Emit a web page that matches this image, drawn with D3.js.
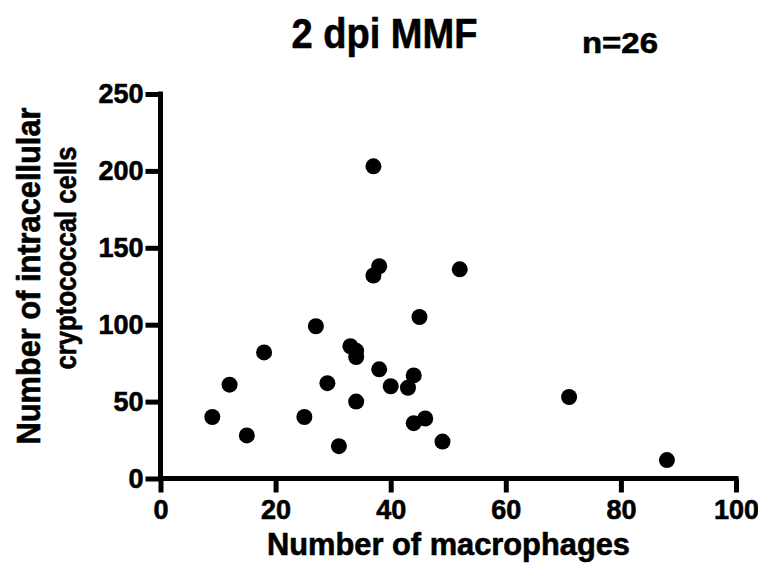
<!DOCTYPE html>
<html>
<head>
<meta charset="utf-8">
<script src="https://cdn.jsdelivr.net/npm/d3@7"></script>
<style>
  html, body { margin: 0; padding: 0; background: #fff; }
  svg { display: block; font-family: "Liberation Sans", Arial, Helvetica, sans-serif; }
  svg text { stroke: #000; stroke-width: 0.6px; }
</style>
</head>
<body>
<svg id="chart" width="758" height="570"></svg>
<script>
// Data
const macrophages = [9, 12, 15, 18, 25, 27, 29, 31, 33, 34, 34, 34, 38, 40, 43, 44, 44, 46, 49, 45, 71, 88, 37, 38, 37, 52];
const intracellular = [40, 61, 28, 82, 40, 99, 62, 21, 86, 83, 79, 50, 71, 60, 59, 67, 36, 39, 24, 105, 53, 12, 203, 138, 132, 136];
const xTicks = [0, 20, 40, 60, 80, 100];
const yTicks = [0, 50, 100, 150, 200, 250];
const titleText = "2 dpi MMF";
const nText = "n=26";
const xLabel = "Number of macrophages";
const yLabelLines = ["Number of intracellular", "cryptococcal cells"];

const points = macrophages.map((m, i) => ({ x: m, y: intracellular[i] }));

const svg = d3.select("#chart");
const x = d3.scaleLinear().domain([0, 100]).range([160.5, 736]);
const y = d3.scaleLinear().domain([0, 250]).range([478.5, 94]);

const AXW = 5;

// X axis
const gx = svg.append("g").attr("transform", `translate(0,${y(0)})`)
  .call(d3.axisBottom(x).tickValues(xTicks).tickSize(14).tickSizeOuter(0).tickPadding(7));
gx.select(".domain").attr("stroke", "#000").attr("stroke-width", AXW)
  .attr("d", `M${x(0) - AXW/2},0H${x(100) + AXW/2}`);
gx.selectAll(".tick line").attr("stroke", "#000").attr("stroke-width", AXW);
gx.selectAll(".tick text").attr("fill", "#000").attr("font-size", 27).attr("font-weight", "bold");

// Y axis
const gy = svg.append("g").attr("transform", `translate(${x(0)},0)`)
  .call(d3.axisLeft(y).tickValues(yTicks).tickSize(15).tickSizeOuter(0).tickPadding(2));
gy.select(".domain").attr("stroke", "#000").attr("stroke-width", AXW)
  .attr("d", `M0,${y(250) - AXW/2}V${y(0) + AXW/2}`);
gy.selectAll(".tick line").attr("stroke", "#000").attr("stroke-width", AXW);
gy.selectAll(".tick text").attr("fill", "#000").attr("font-size", 27).attr("font-weight", "bold");

// Points
svg.append("g").selectAll("circle").data(points).join("circle")
  .attr("cx", d => x(d.x)).attr("cy", d => y(d.y)).attr("r", 8).attr("fill", "#000");

// Title
svg.append("text").attr("x", 291.5).attr("y", 48)
  .attr("font-size", 43).attr("font-weight", "bold")
  .attr("textLength", 186).attr("lengthAdjust", "spacingAndGlyphs")
  .text(titleText);
svg.append("text").attr("x", 582).attr("y", 53)
  .attr("font-size", 30).attr("font-weight", "bold")
  .attr("textLength", 76).attr("lengthAdjust", "spacingAndGlyphs")
  .text(nText);

// X label
svg.append("text").attr("x", 448.5).attr("y", 555)
  .attr("text-anchor", "middle").attr("font-size", 31).attr("font-weight", "bold")
  .attr("textLength", 363).attr("lengthAdjust", "spacingAndGlyphs")
  .text(xLabel);

// Y label (two lines, rotated)
svg.append("text").attr("transform", "translate(40,276) rotate(-90)")
  .attr("text-anchor", "middle").attr("font-size", 33).attr("font-weight", "bold")
  .attr("textLength", 337).attr("lengthAdjust", "spacingAndGlyphs")
  .text(yLabelLines[0]);
svg.append("text").attr("transform", "translate(76,258) rotate(-90)")
  .attr("text-anchor", "middle").attr("font-size", 29).attr("font-weight", "bold")
  .attr("textLength", 223).attr("lengthAdjust", "spacingAndGlyphs")
  .text(yLabelLines[1]);
</script>
</body>
</html>
